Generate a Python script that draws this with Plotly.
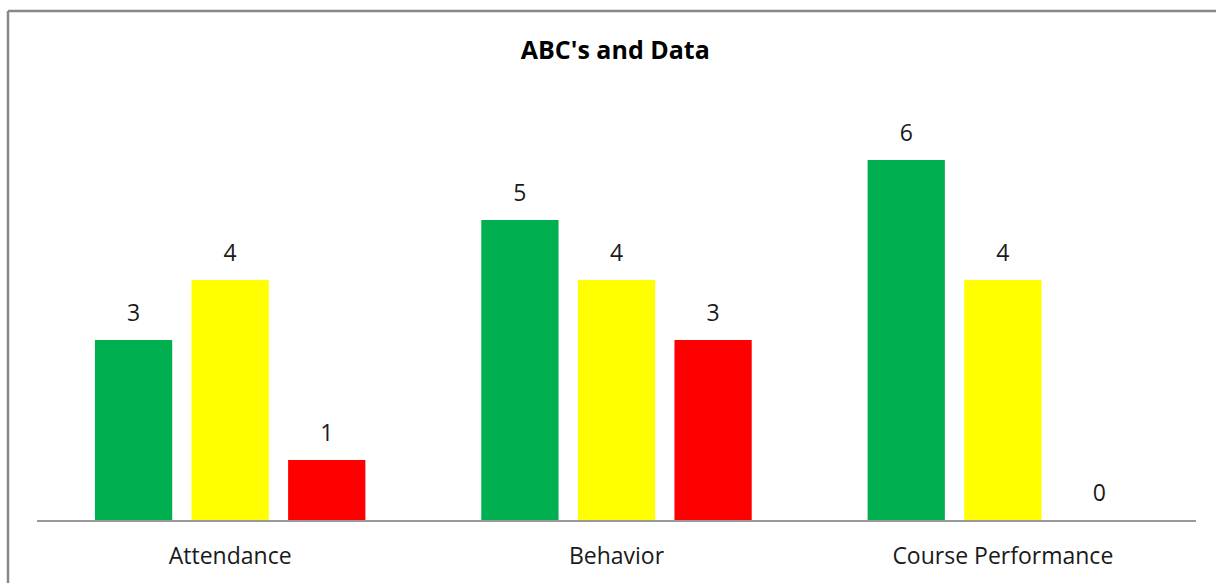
import plotly.graph_objects as go

# Chart data
categories = ["Attendance", "Behavior", "Course Performance"]
series_names = ["Green", "Yellow", "Red"]
green_values = [3, 5, 6]
yellow_values = [4, 4, 4]
red_values = [1, 3, 0]

colors = ["#00B050", "#FFFF00", "#FF0000"]

W, H = 1216, 583
ML, MR, MT, MB = 37, 20, 100, 63
FONT = "Open Sans"

fig = go.Figure()
for name, vals, col in zip(series_names, [green_values, yellow_values, red_values], colors):
    fig.add_trace(go.Bar(
        x=categories, y=vals, name=name, offsetgroup=name,
        marker=dict(color=col, line=dict(width=0)),
        hoverinfo="x+y",
    ))
    # value labels sitting above each bar
    fig.add_trace(go.Scatter(
        x=categories, y=vals, name=name, offsetgroup=name,
        mode="markers+text",
        marker=dict(size=20, opacity=0),
        text=[str(v) for v in vals], textposition="top center",
        textfont=dict(family=FONT, size=23, color="#1a1a1a"),
        cliponaxis=False, hoverinfo="skip", showlegend=False,
    ))

# Frame around the chart (top and left edges visible in the window)
pw, ph = W - ML - MR, H - MT - MB
def px_x(p):
    return (p - ML) / pw
def px_y(p):
    return (H - MB - p) / ph

fig.add_shape(type="line", xref="paper", yref="paper",
              x0=px_x(8), x1=px_x(W + 5), y0=px_y(11), y1=px_y(11),
              line=dict(color="#888888", width=2.5))
fig.add_shape(type="line", xref="paper", yref="paper",
              x0=px_x(8), x1=px_x(8), y0=px_y(11), y1=px_y(H + 5),
              line=dict(color="#888888", width=2.5))

fig.update_layout(
    width=W, height=H,
    margin=dict(l=ML, r=MR, t=MT, b=MB, autoexpand=False),
    paper_bgcolor="white", plot_bgcolor="white",
    barmode="group", bargap=0.25, bargroupgap=0.2,
    scattermode="group", scattergap=0.25,
    showlegend=False,
    title=dict(text="<b>ABC's and Data</b>", x=0.506, xanchor="center",
               y=1 - 50 / H, yanchor="middle", yref="container",
               font=dict(family=FONT, size=25, color="#000000")),
    font=dict(family=FONT, color="#1a1a1a"),
)
fig.update_xaxes(showline=True, linecolor="#999999", linewidth=1.5,
                 showgrid=False, ticks="", ticklabelstandoff=15, automargin=False,
                 tickfont=dict(family=FONT, size=23, color="#1a1a1a"))
fig.update_yaxes(range=[0, 7], visible=False, showgrid=False, zeroline=False,
                 automargin=False)

fig.write_html("out.html")
